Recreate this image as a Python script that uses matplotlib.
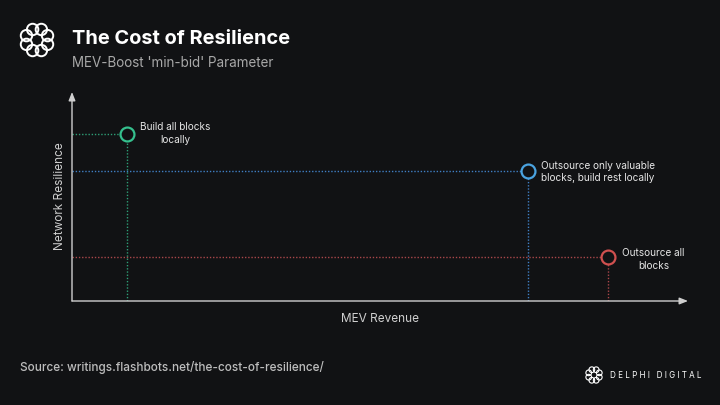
import numpy as np
import matplotlib.pyplot as plt
from matplotlib.patches import Circle

# 数据：三种策略的位置（相对坐标，0-10）
labels = ['Build all blocks\nlocally',
          'Outsource only valuable\nblocks, build rest locally',
          'Outsource all\nblocks']
mev_revenue = [0.9, 7.4, 8.7]
resilience = [8.0, 6.2, 2.1]
colors = ['#35c08e', '#4aa3e0', '#d0504f']
line_colors = ['#2e9e76', '#3f7fc4', '#a9474a']

bg = '#111214'
axis_color = '#cfcfcf'

plt.rcParams['font.family'] = ['Inter', 'DejaVu Sans']

fig = plt.figure(figsize=(7.2, 4.05), dpi=100, facecolor=bg)

# 标题
fig.text(72/720, 1 - 39/405, 'The Cost of Resilience', color='white',
         fontsize=14.4, fontweight='bold', va='center', ha='left')
fig.text(72/720, 1 - 63/405, "MEV-Boost 'min-bid' Parameter", color='#a8a8a8',
         fontsize=9.7, va='center', ha='left')
fig.text(20/720, 1 - 367/405, 'Source: writings.flashbots.net/the-cost-of-resilience/',
         color='#bdbdbd', fontsize=8.5, fontweight='medium', va='center', ha='left')
fig.text(610/720, 1 - 375/405, 'D E L P H I   D I G I T A L', color='white',
         fontsize=5.8, va='center', ha='left')


def draw_logo(cx, cy, size, lw):
    lax = fig.add_axes([(cx - size/2)/720, 1 - (cy + size/2)/405, size/720, size/405])
    lax.set_xlim(-1, 1)
    lax.set_ylim(-1, 1)
    lax.set_aspect('equal')
    lax.axis('off')
    for k in range(8):
        a = k * np.pi / 4 + np.pi / 8
        lax.add_patch(Circle((0.6*np.cos(a), 0.6*np.sin(a)), 0.3, fill=False,
                             ec='white', lw=lw))


draw_logo(37, 40, 38, 1.4)
draw_logo(594, 375, 19, 0.8)

# 主图
ax = fig.add_axes([72/720, 1 - 301/405, 616/720, 209/405])
ax.set_facecolor(bg)
ax.set_xlim(0, 10)
ax.set_ylim(0, 10)
for s in ax.spines.values():
    s.set_visible(False)
ax.set_xticks([])
ax.set_yticks([])

ax.annotate('', xy=(1, 0), xytext=(0, 0), xycoords='axes fraction',
            arrowprops=dict(arrowstyle='-|>,head_length=0.5,head_width=0.2',
                            color=axis_color, lw=1, shrinkA=0, shrinkB=0))
ax.annotate('', xy=(0, 1), xytext=(0, 0), xycoords='axes fraction',
            arrowprops=dict(arrowstyle='-|>,head_length=0.5,head_width=0.2',
                            color=axis_color, lw=1, shrinkA=0, shrinkB=0))

for x, y, c, lc in zip(mev_revenue, resilience, colors, line_colors):
    ax.plot([0, x], [y, y], ls=(0, (1, 1.3)), color=lc, lw=1)
    ax.plot([x, x], [0, y], ls=(0, (1, 1.3)), color=lc, lw=1)
    ax.plot(x, y, 'o', ms=10, mfc=bg, mec=c, mew=1.6, zorder=5)

ax.text(1.67, 8.0, labels[0], color='#e6e6e6', fontsize=7.2, ha='center', va='center',
        linespacing=1.35)
ax.text(8.54, 6.17, labels[1], color='#e6e6e6', fontsize=7.2, ha='center', va='center',
        linespacing=1.35)
ax.text(9.44, 2.0, labels[2], color='#e6e6e6', fontsize=7.2, ha='center', va='center',
        linespacing=1.35)

ax.set_xlabel('MEV Revenue', color=axis_color, fontsize=8.5, labelpad=9)
ax.set_ylabel('Network Resilience', color=axis_color, fontsize=8.5, labelpad=4)

fig.savefig('out.png', dpi=100, facecolor=bg)
